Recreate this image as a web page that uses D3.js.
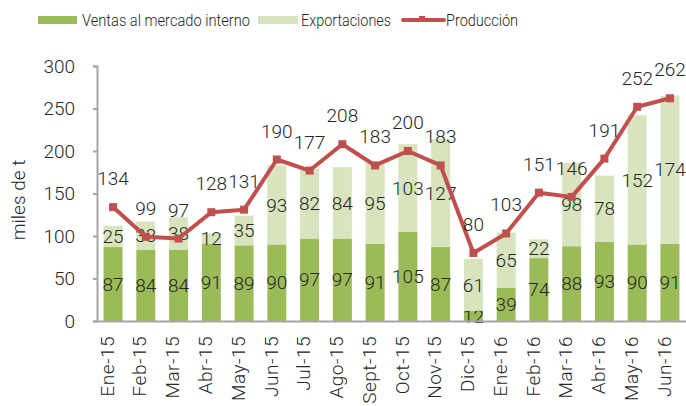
<!DOCTYPE html>
<html>
<head>
<meta charset="utf-8">
<script src="https://cdn.jsdelivr.net/npm/d3@7"></script>
<style>
  body { margin: 0; background: #fff; }
  svg text { font-family: Roboto, sans-serif; font-weight: 300; }
</style>
</head>
<body>
<svg id="chart" width="686" height="406"></svg>
<script>
const months = ["Ene-15", "Feb-15", "Mar-15", "Abr-15", "May-15", "Jun-15", "Jul-15", "Ago-15", "Sept-15",
  "Oct-15", "Nov-15", "Dic-15", "Ene-16", "Feb-16", "Mar-16", "Abr-16", "May-16", "Jun-16"];
const ventas = [87, 84, 84, 91, 89, 90, 97, 97, 91, 105, 87, 12, 39, 74, 88, 93, 90, 91];
const exportaciones = [25, 33, 38, 12, 35, 93, 82, 84, 95, 103, 127, 61, 65, 22, 98, 78, 152, 174];
const produccion = [134, 99, 97, 128, 131, 190, 177, 208, 183, 200, 183, 80, 103, 151, 146, 191, 252, 262];
const yTicks = [0, 50, 100, 150, 200, 250, 300];

const GREEN = "#9bbb59", LIGHT = "#d7e4bd", RED = "#c0504d", AXIS = "#a6a6a6", TEXT = "#262626";

const svg = d3.select("#chart");
const margin = { left: 97, right: 0, top: 66, bottom: 85 };
const width = 686, height = 406;

const x = d3.scaleBand().domain(months).range([margin.left, width - margin.right])
  .paddingInner(0.42).paddingOuter(0.2);
const y = d3.scaleLinear().domain([0, 300]).range([height - margin.bottom, margin.top]);

// stacked bars
const rows = months.map((m, i) => ({ month: m, ventas: ventas[i], exportaciones: exportaciones[i] }));
const stack = d3.stack().keys(["ventas", "exportaciones"])(rows);
const colors = { ventas: GREEN, exportaciones: LIGHT };

const layers = svg.append("g").selectAll("g").data(stack).join("g");
layers.selectAll("rect").data(d => d).join("rect")
  .attr("fill", function() { return colors[d3.select(this.parentNode).datum().key]; })
  .attr("x", d => x(d.data.month))
  .attr("width", x.bandwidth())
  .attr("y", d => y(d[1]))
  .attr("height", d => y(d[0]) - y(d[1]));

// axes
const yAxis = svg.append("g").attr("transform", `translate(${margin.left},0)`)
  .call(d3.axisLeft(y).tickValues(yTicks).tickSize(4).tickPadding(6));
yAxis.select(".domain").attr("stroke", AXIS).attr("stroke-width", 2);
yAxis.selectAll(".tick line").attr("stroke", AXIS).attr("stroke-width", 2);
yAxis.selectAll(".tick text").attr("font-size", 19).attr("dx", -12).attr("fill", TEXT);

const xAxis = svg.append("g").attr("transform", `translate(0,${y(0)})`)
  .call(d3.axisBottom(x).tickSize(0).tickPadding(0));
xAxis.select(".domain").attr("stroke", AXIS).attr("stroke-width", 2);
xAxis.selectAll(".tick text")
  .attr("font-size", 19)
  .attr("letter-spacing", 0.5)
  .attr("fill", TEXT)
  .attr("text-anchor", "end")
  .attr("transform", "rotate(-90)")
  .attr("x", -15)
  .attr("y", -6)
  .attr("dy", "0.35em");

svg.append("text")
  .attr("transform", "translate(25,200) rotate(-90)")
  .attr("text-anchor", "middle")
  .attr("font-size", 19)
  .attr("fill", TEXT)
  .text("miles de t");

// segment labels
layers.selectAll("text").data(d => d).join("text")
  .attr("x", d => x(d.data.month) + x.bandwidth() / 2)
  .attr("y", d => (y(d[0]) + y(d[1])) / 2)
  .attr("dy", "0.35em")
  .attr("text-anchor", "middle")
  .attr("font-size", 19)
  .attr("fill", TEXT)
  .text(d => d[1] - d[0]);

// production line
const cx = (d, i) => x(months[i]) + x.bandwidth() / 2;
const line = d3.line().x(cx).y(d => y(d));
svg.append("path").datum(produccion)
  .attr("fill", "none")
  .attr("stroke", RED)
  .attr("stroke-width", 4)
  .attr("stroke-linejoin", "round")
  .attr("d", line);
svg.append("g").selectAll("rect").data(produccion).join("rect")
  .attr("x", (d, i) => cx(d, i) - 4)
  .attr("y", d => y(d) - 4)
  .attr("width", 8).attr("height", 8)
  .attr("fill", RED);
svg.append("g").selectAll("text").data(produccion).join("text")
  .attr("x", cx)
  .attr("y", d => y(d) - 22)
  .attr("text-anchor", "middle")
  .attr("font-size", 19)
  .attr("fill", TEXT)
  .text(d => d);

// legend
const legend = svg.append("g").attr("transform", "translate(0,20)");
const legendText = (x0, len, label) => legend.append("text")
  .attr("x", x0).attr("dy", "0.35em").attr("font-size", 17).attr("fill", TEXT)
  .attr("textLength", len).attr("lengthAdjust", "spacingAndGlyphs")
  .text(label);
legend.append("rect").attr("x", 38).attr("y", -4).attr("width", 39).attr("height", 8).attr("fill", GREEN);
legendText(82, 168, "Ventas al mercado interno");
legend.append("rect").attr("x", 258).attr("y", -4).attr("width", 40).attr("height", 8).attr("fill", LIGHT);
legendText(301, 90, "Exportaciones");
legend.append("line").attr("x1", 403).attr("x2", 444).attr("stroke", RED).attr("stroke-width", 4).attr("stroke-linecap", "round");
legend.append("rect").attr("x", 419).attr("y", -4).attr("width", 6).attr("height", 6).attr("fill", RED);
legendText(446, 72, "Producción");
</script>
</body>
</html>
